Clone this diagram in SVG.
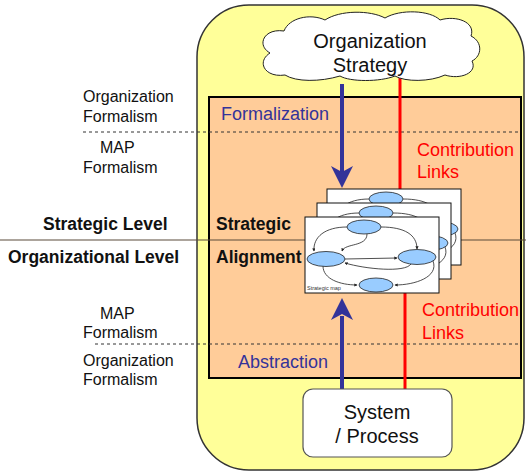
<svg xmlns="http://www.w3.org/2000/svg" width="526" height="473" viewBox="0 0 526 473">
  <style>
    .lbl { font-family: "Liberation Sans", Arial, sans-serif; font-size: 16px; fill: #111; }
    .lvl { font-family: "Liberation Sans", Arial, sans-serif; font-size: 17.5px; font-weight: bold; fill: #111; }
    .blue { font-family: "Liberation Sans", Arial, sans-serif; font-size: 18px; fill: #333399; }
    .red { font-family: "Liberation Sans", Arial, sans-serif; font-size: 18px; fill: #ff0000; }
    .big { font-family: "Liberation Sans", Arial, sans-serif; font-size: 20px; fill: #111; text-anchor: middle; }
    .dash { stroke: #333; stroke-width: 1; stroke-dasharray: 3 3; fill: none; }
    .flow { stroke: #333399; stroke-width: 4; fill: none; }
    .link { stroke: #ff0000; stroke-width: 3; fill: none; }
    .card { fill: #fff; stroke: #111; stroke-width: 1; }
    .goal { fill: #99ccff; stroke: #222; stroke-width: 0.8; }
    .edge { stroke: #222; stroke-width: 0.8; fill: none; marker-end: url(#tip); }
  </style>
  <defs>
    <marker id="tip" viewBox="0 0 6 6" refX="5" refY="3" markerWidth="4" markerHeight="4" orient="auto">
      <path d="M0,0 L6,3 L0,6 Z" fill="#222"/>
    </marker>
    <!-- one strategic map sheet, drawn at local origin -->
    <g id="mapsheet">
      <rect class="card" x="0" y="0" width="134" height="76"/>
      <path class="edge" d="M42,10 C20,10 8,20 9,34"/>
      <path class="edge" d="M62,17 C62,30 40,26 37,34"/>
      <path class="edge" d="M76,10 C100,10 112,18 112,32"/>
      <path class="edge" d="M40,42 L92,41"/>
      <path class="edge" d="M106,47 C100,56 60,52 40,46"/>
      <path class="edge" d="M18,49 C18,62 35,68 52,68"/>
      <path class="edge" d="M128,44 C134,60 110,68 90,68"/>
      <ellipse class="goal" cx="59" cy="10" rx="17" ry="7"/>
      <ellipse class="goal" cx="21" cy="42" rx="19" ry="7.5"/>
      <ellipse class="goal" cx="112" cy="40" rx="19" ry="7.5"/>
      <ellipse class="goal" cx="71" cy="68" rx="17" ry="7"/>
    </g>
  </defs>

  <!-- white page -->
  <rect x="0" y="0" width="526" height="473" fill="#fff"/>

  <!-- information system frame -->
  <g id="system-frame">
    <rect x="197" y="5" width="327" height="465" rx="52" ry="52" fill="#ffff99" stroke="#333" stroke-width="1.5"/>
  </g>

  <!-- alignment area -->
  <g id="alignment-area">
    <rect x="209" y="97" width="312" height="281" fill="#ffcc99" stroke="#000" stroke-width="2"/>
  </g>

  <!-- level separators -->
  <g id="separators">
    <line x1="83" y1="132" x2="518" y2="132" class="dash"/>
    <line x1="95" y1="344" x2="520" y2="344" class="dash"/>
    <line x1="0" y1="240" x2="526" y2="240" stroke="#5a4a3a" stroke-width="1.2"/>
  </g>

  <!-- connectors -->
  <g id="connectors">
    <line class="link" x1="400" y1="78" x2="400" y2="190"/>
    <line class="link" x1="405" y1="290" x2="405" y2="390"/>
    <line class="flow" x1="342" y1="84" x2="342" y2="172"/>
    <path d="M342,188 L331,166 L342,172 L353,166 Z" fill="#333399"/>
    <line class="flow" x1="342" y1="390" x2="342" y2="316"/>
    <path d="M342,298 L331,320 L342,314 L353,320 Z" fill="#333399"/>
  </g>

  <!-- organization strategy -->
  <g id="organization-strategy">
    <path d="M285,75 C265,78 256,62 270,53 C256,45 264,28 284,31 C289,18 310,13 325,20 C340,10 370,10 385,18 C400,9 430,10 440,20 C456,15 476,22 471,36 C483,42 482,56 472,61 C478,73 460,80 445,75 C430,82 405,82 395,76 C380,82 350,82 340,76 C320,82 296,82 285,75 Z" fill="#fff" stroke="#222" stroke-width="1"/>
    <text class="big" x="370" y="48">Organization</text>
    <text class="big" x="370" y="72">Strategy</text>
  </g>

  <!-- strategic maps -->
  <g id="strategic-maps">
    <use href="#mapsheet" x="327" y="189"/>
    <use href="#mapsheet" x="317" y="203"/>
    <use href="#mapsheet" x="305" y="217"/>
    <text x="307" y="290" font-family="Liberation Sans, Arial, sans-serif" font-size="5.5" fill="#333">Strategic map</text>
  </g>

  <!-- system / process -->
  <g id="system-process">
    <rect x="303" y="389" width="149" height="68" rx="10" ry="10" fill="#fff" stroke="#555" stroke-width="1.2"/>
    <text class="big" x="377" y="419">System</text>
    <text class="big" x="377" y="443">/ Process</text>
  </g>

  <!-- formalism labels -->
  <g id="formalism-labels">
    <text class="lbl" x="83" y="102">Organization</text>
    <text class="lbl" x="83" y="122">Formalism</text>
    <text class="lbl" x="100" y="153">MAP</text>
    <text class="lbl" x="83" y="173">Formalism</text>
    <text class="lbl" x="100" y="319">MAP</text>
    <text class="lbl" x="83" y="338">Formalism</text>
    <text class="lbl" x="83" y="366">Organization</text>
    <text class="lbl" x="83" y="385">Formalism</text>
  </g>

  <!-- level labels -->
  <g id="level-labels">
    <text class="lvl" x="43" y="230">Strategic Level</text>
    <text class="lvl" x="8" y="263">Organizational Level</text>
    <text class="lvl" x="216" y="230">Strategic</text>
    <text class="lvl" x="216" y="263">Alignment</text>
  </g>

  <!-- process labels -->
  <g id="process-labels">
    <text class="blue" x="221" y="120">Formalization</text>
    <text class="blue" x="238" y="368">Abstraction</text>
    <text class="red" x="417" y="156">Contribution</text>
    <text class="red" x="417" y="178">Links</text>
    <text class="red" x="422" y="316">Contribution</text>
    <text class="red" x="422" y="339">Links</text>
  </g>
</svg>
